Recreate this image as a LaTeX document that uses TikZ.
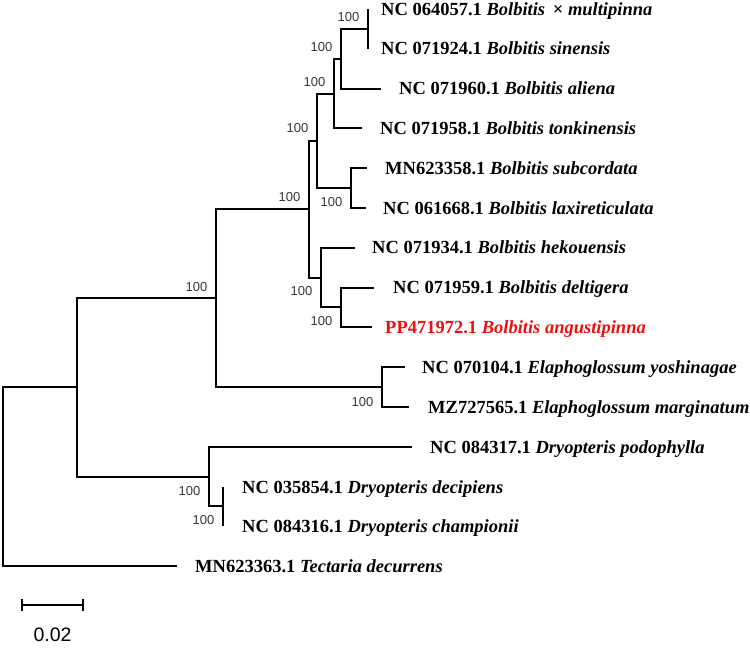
\documentclass[tikz,border=0pt]{standalone}
\usepackage{fontspec}
\setmainfont{Liberation Serif}
\newfontfamily\lsans{Liberation Sans}
\usetikzlibrary{calc}
\definecolor{bsgray}{RGB}{55,55,55}
\definecolor{hlred}{RGB}{238,16,16}
\begin{document}
\begin{tikzpicture}[x=1pt,y=-1pt,
  branch/.style={line width=2pt, line join=miter},
  taxon/.style={anchor=base west, inner sep=0pt, font=\fontsize{18.5}{20}\selectfont\bfseries},
  bs/.style={anchor=east, inner sep=0pt, text=bsgray, font=\lsans\fontsize{13}{13}\selectfont},
  scalelab/.style={inner sep=0pt, font=\lsans\fontsize{19.5}{20}\selectfont}]
\fill[white] (0,0) rectangle (750,655);
\useasboundingbox (0,0) rectangle (750,655);
% internal nodes
\coordinate (Na) at (368,29);
\coordinate (Nb) at (341,59);
\coordinate (Nc) at (334,94);
\coordinate (Nd) at (351,188);
\coordinate (Ne) at (317,141);
\coordinate (Nf) at (341,307);
\coordinate (Ng) at (321,278);
\coordinate (Nh) at (309,209);
\coordinate (Ni) at (382,387);
\coordinate (Nj) at (216,298);
\coordinate (Nk) at (223,506);
\coordinate (Nl) at (209,477);
\coordinate (Nm) at (77,387);
\coordinate (R) at (3,477);
% tips
\coordinate (T1) at (368,9);
\coordinate (T2) at (368,49);
\coordinate (T3) at (381,89);
\coordinate (T4) at (362,128);
\coordinate (T5) at (367,168);
\coordinate (T6) at (366,208);
\coordinate (T7) at (355,248);
\coordinate (T8) at (374,288);
\coordinate (T9) at (372,327);
\coordinate (T10) at (405,367);
\coordinate (T11) at (409,407);
\coordinate (T12) at (412,447);
\coordinate (T13) at (223,487);
\coordinate (T14) at (223,526);
\coordinate (T15) at (177,566);
% branches
\draw[branch] (Na) |- (T1);
\draw[branch] (Na) |- (T2);
\draw[branch] (Nb) |- (Na);
\draw[branch] (Nb) |- (T3);
\draw[branch] (Nc) |- (Nb);
\draw[branch] (Nc) |- (T4);
\draw[branch] (Nd) |- (T5);
\draw[branch] (Nd) |- (T6);
\draw[branch] (Ne) |- (Nc);
\draw[branch] (Ne) |- (Nd);
\draw[branch] (Nf) |- (T8);
\draw[branch] (Nf) |- (T9);
\draw[branch] (Ng) |- (T7);
\draw[branch] (Ng) |- (Nf);
\draw[branch] (Nh) |- (Ne);
\draw[branch] (Nh) |- (Ng);
\draw[branch] (Ni) |- (T10);
\draw[branch] (Ni) |- (T11);
\draw[branch] (Nj) |- (Nh);
\draw[branch] (Nj) |- (Ni);
\draw[branch] (Nk) |- (T13);
\draw[branch] (Nk) |- (T14);
\draw[branch] (Nl) |- (T12);
\draw[branch] (Nl) |- (Nk);
\draw[branch] (Nm) |- (Nj);
\draw[branch] (Nm) |- (Nl);
\draw[branch] (R) |- (Nm);
\draw[branch] (R) |- (T15);
% taxon labels
\node[taxon] (t1) at (381,15.1) {NC 064057.1 \textit{Bolbitis} \,× \textit{multipinna}};
\node[taxon] (t2) at (381,55.0) {NC 071924.1 \textit{Bolbitis sinensis}};
\node[taxon] (t3) at (399,95.0) {NC 071960.1 \textit{Bolbitis aliena}};
\node[taxon] (t4) at (380,134.5) {NC 071958.1 \textit{Bolbitis tonkinensis}};
\node[taxon] (t5) at (385,174.3) {MN623358.1 \textit{Bolbitis subcordata}};
\node[taxon] (t6) at (383,214.1) {NC 061668.1 \textit{Bolbitis laxireticulata}};
\node[taxon] (t7) at (372,254.0) {NC 071934.1 \textit{Bolbitis hekouensis}};
\node[taxon] (t8) at (393,294.0) {NC 071959.1 \textit{Bolbitis deltigera}};
\node[taxon, text=hlred] (t9) at (385,333.4) {PP471972.1 \textit{Bolbitis angustipinna}};
\node[taxon] (t10) at (422,373.2) {NC 070104.1 \textit{Elaphoglossum yoshinagae}};
\node[taxon] (t11) at (428,413.0) {MZ727565.1 \textit{Elaphoglossum marginatum}};
\node[taxon] (t12) at (430,453.0) {NC 084317.1 \textit{Dryopteris podophylla}};
\node[taxon] (t13) at (242,493.0) {NC 035854.1 \textit{Dryopteris decipiens}};
\node[taxon] (t14) at (242,532.4) {NC 084316.1 \textit{Dryopteris championii}};
\node[taxon] (t15) at (195,572.2) {MN623363.1 \textit{Tectaria decurrens}};
% bootstrap values
\node[bs] (ba) at ($(Na)+(-8.5,-11.5)$) {100};
\node[bs] (bb) at ($(Nb)+(-8.5,-11.5)$) {100};
\node[bs] (bc) at ($(Nc)+(-8.5,-11.5)$) {100};
\node[bs] (be) at ($(Ne)+(-8.5,-12.5)$) {100};
\node[bs] (bh) at ($(Nh)+(-8.5,-12)$) {100};
\node[bs] (bj) at ($(Nj)+(-8.5,-11)$) {100};
\node[bs] (bd) at ($(Nd)+(-8.5,14)$) {100};
\node[bs] (bg) at ($(Ng)+(-8.5,13.5)$) {100};
\node[bs] (bf) at ($(Nf)+(-8.5,14)$) {100};
\node[bs] (bi) at ($(Ni)+(-8.5,15)$) {100};
\node[bs] (bl) at ($(Nl)+(-8.5,14.5)$) {100};
\node[bs] (bk) at ($(Nk)+(-8.5,14)$) {100};
% scale bar
\coordinate (sbL) at (22,605);
\coordinate (sbR) at (83,605);
\draw[line width=2pt] (sbL) -- (sbR);
\draw[line width=2pt] ($(sbL)+(0,-6)$) -- ($(sbL)+(0,6)$);
\draw[line width=2pt] ($(sbR)+(0,-6)$) -- ($(sbR)+(0,6)$);
\node[scalelab] (sbt) at (52.5,634.5) {0.02};
\end{tikzpicture}
\end{document}
